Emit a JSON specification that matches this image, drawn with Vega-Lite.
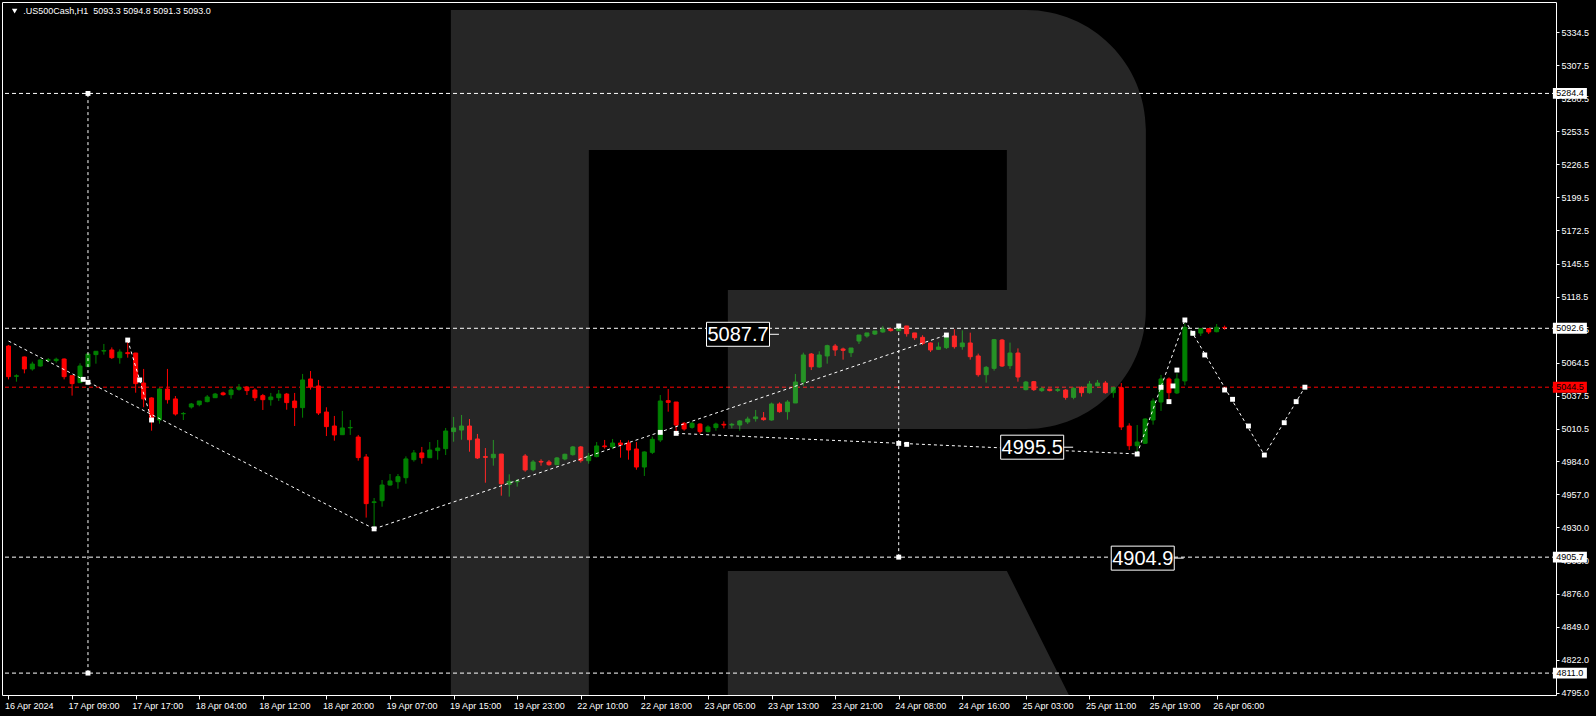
{
"$schema": "https://vega.github.io/schema/vega-lite/v6.json",
"width": 1554, "height": 693,
"autosize": {"type": "none"},
"padding": {"left": 2, "top": 2, "right": 40, "bottom": 21},
"background": "#000000",
"config": {"view": {"stroke": "#ffffff", "strokeWidth": 1}},
"resolve": {"axis": {"x": "independent", "y": "independent"}},
"datasets": {
"candles": [
{"i":0,"o":5078.1,"h":5079.0,"l":5050.9,"c":5053.1},
{"i":1,"o":5053.4,"h":5055.0,"l":5049.0,"c":5053.8},
{"i":2,"o":5069.2,"h":5069.5,"l":5055.8,"c":5059.4},
{"i":3,"o":5059.4,"h":5065.3,"l":5058.0,"c":5063.4},
{"i":4,"o":5061.8,"h":5067.5,"l":5061.3,"c":5066.7},
{"i":5,"o":5066.5,"h":5068.3,"l":5065.1,"c":5066.9},
{"i":6,"o":5066.2,"h":5068.6,"l":5064.5,"c":5067.3},
{"i":7,"o":5067.5,"h":5068.0,"l":5050.9,"c":5053.1},
{"i":8,"o":5053.9,"h":5054.0,"l":5037.6,"c":5047.4},
{"i":9,"o":5048.2,"h":5064.0,"l":5048.0,"c":5061.8},
{"i":10,"o":5061.3,"h":5072.1,"l":5061.0,"c":5071.6},
{"i":11,"o":5071.1,"h":5073.9,"l":5063.7,"c":5073.8},
{"i":12,"o":5074.0,"h":5079.8,"l":5071.1,"c":5074.4},
{"i":13,"o":5074.9,"h":5077.0,"l":5067.5,"c":5068.6},
{"i":14,"o":5068.6,"h":5075.4,"l":5063.7,"c":5073.2},
{"i":15,"o":5072.7,"h":5081.4,"l":5068.6,"c":5071.9},
{"i":16,"o":5072.4,"h":5072.5,"l":5040.0,"c":5047.4},
{"i":17,"o":5047.9,"h":5059.4,"l":5028.1,"c":5034.9},
{"i":18,"o":5035.7,"h":5036.2,"l":5009.0,"c":5017.7},
{"i":19,"o":5017.7,"h":5043.8,"l":5014.7,"c":5043.0},
{"i":20,"o":5043.0,"h":5059.4,"l":5031.1,"c":5034.3},
{"i":21,"o":5034.9,"h":5037.3,"l":5021.3,"c":5022.6},
{"i":22,"o":5022.8,"h":5024.2,"l":5017.7,"c":5023.0},
{"i":23,"o":5028.3,"h":5031.6,"l":5027.0,"c":5030.8},
{"i":24,"o":5030.2,"h":5033.2,"l":5028.9,"c":5033.2},
{"i":25,"o":5032.7,"h":5038.1,"l":5032.1,"c":5036.5},
{"i":26,"o":5035.9,"h":5039.8,"l":5035.9,"c":5038.9},
{"i":27,"o":5039.8,"h":5040.8,"l":5037.6,"c":5038.4},
{"i":28,"o":5038.4,"h":5044.1,"l":5035.1,"c":5042.2},
{"i":29,"o":5042.8,"h":5047.1,"l":5041.7,"c":5044.4},
{"i":30,"o":5044.6,"h":5045.5,"l":5038.1,"c":5041.7},
{"i":31,"o":5042.2,"h":5043.6,"l":5033.2,"c":5035.9},
{"i":32,"o":5037.6,"h":5039.0,"l":5025.9,"c":5034.3},
{"i":33,"o":5034.3,"h":5039.8,"l":5029.4,"c":5036.5},
{"i":34,"o":5035.9,"h":5042.2,"l":5033.2,"c":5038.9},
{"i":35,"o":5038.9,"h":5039.8,"l":5026.1,"c":5031.9},
{"i":36,"o":5033.2,"h":5039.8,"l":5012.8,"c":5027.8},
{"i":37,"o":5027.8,"h":5055.3,"l":5019.6,"c":5050.4},
{"i":38,"o":5051.2,"h":5057.7,"l":5042.5,"c":5044.6},
{"i":39,"o":5045.5,"h":5050.4,"l":5021.8,"c":5023.4},
{"i":40,"o":5024.2,"h":5028.1,"l":5004.6,"c":5012.3},
{"i":41,"o":5012.8,"h":5021.0,"l":5000.8,"c":5005.5},
{"i":42,"o":5005.7,"h":5025.1,"l":5005.7,"c":5011.2},
{"i":43,"o":5011.3,"h":5017.7,"l":5005.5,"c":5011.6},
{"i":44,"o":5003.8,"h":5005.5,"l":4984.5,"c":4987.0},
{"i":45,"o":4987.5,"h":4989.9,"l":4938.0,"c":4949.4},
{"i":46,"o":4950.3,"h":4954.0,"l":4930.0,"c":4950.9},
{"i":47,"o":4951.8,"h":4968.7,"l":4946.9,"c":4964.6},
{"i":48,"o":4964.6,"h":4973.6,"l":4964.1,"c":4967.9},
{"i":49,"o":4967.3,"h":4973.6,"l":4961.6,"c":4971.4},
{"i":50,"o":4970.6,"h":4988.0,"l":4965.7,"c":4985.9},
{"i":51,"o":4985.3,"h":4993.2,"l":4983.7,"c":4990.8},
{"i":52,"o":4990.8,"h":4995.7,"l":4982.0,"c":4986.9},
{"i":53,"o":4986.9,"h":4999.7,"l":4986.9,"c":4993.2},
{"i":54,"o":4992.7,"h":5001.4,"l":4985.3,"c":4994.8},
{"i":55,"o":4994.3,"h":5011.2,"l":4989.1,"c":5008.7},
{"i":56,"o":5008.2,"h":5020.2,"l":5000.0,"c":5011.2},
{"i":57,"o":5009.5,"h":5021.8,"l":5001.6,"c":5012.8},
{"i":58,"o":5012.8,"h":5018.5,"l":4991.8,"c":5001.6},
{"i":59,"o":5002.2,"h":5006.3,"l":4985.9,"c":4986.7},
{"i":60,"o":4987.8,"h":4994.8,"l":4966.5,"c":4987.2},
{"i":61,"o":4986.9,"h":5001.4,"l":4980.4,"c":4989.7},
{"i":62,"o":4989.9,"h":4989.9,"l":4955.9,"c":4965.7},
{"i":63,"o":4965.2,"h":4973.3,"l":4955.1,"c":4967.6},
{"i":64,"o":4967.3,"h":4969.5,"l":4963.3,"c":4967.9},
{"i":65,"o":4988.3,"h":4989.9,"l":4975.5,"c":4976.9},
{"i":66,"o":4977.1,"h":4985.0,"l":4975.8,"c":4983.4},
{"i":67,"o":4983.9,"h":4985.6,"l":4980.4,"c":4983.4},
{"i":68,"o":4983.4,"h":4985.0,"l":4980.4,"c":4981.2},
{"i":69,"o":4981.2,"h":4987.5,"l":4981.0,"c":4986.7},
{"i":70,"o":4985.9,"h":4990.2,"l":4984.8,"c":4989.7},
{"i":71,"o":4989.4,"h":4996.5,"l":4988.6,"c":4995.7},
{"i":72,"o":4995.7,"h":4996.5,"l":4982.9,"c":4984.5},
{"i":73,"o":4984.5,"h":4990.8,"l":4982.0,"c":4988.3},
{"i":74,"o":4987.8,"h":4999.7,"l":4987.2,"c":4996.5},
{"i":75,"o":4996.5,"h":5001.4,"l":4994.3,"c":4995.9},
{"i":76,"o":4995.7,"h":5002.2,"l":4994.0,"c":4998.9},
{"i":77,"o":4998.9,"h":5001.4,"l":4986.9,"c":4997.3},
{"i":78,"o":4998.9,"h":5001.1,"l":4985.3,"c":4993.2},
{"i":79,"o":4994.0,"h":4999.7,"l":4977.1,"c":4979.3},
{"i":80,"o":4979.3,"h":4992.1,"l":4972.0,"c":4991.6},
{"i":81,"o":4991.3,"h":5004.1,"l":4989.9,"c":5001.9},
{"i":82,"o":5001.4,"h":5038.1,"l":4999.7,"c":5033.2},
{"i":83,"o":5033.5,"h":5043.0,"l":5024.5,"c":5032.1},
{"i":84,"o":5032.4,"h":5032.4,"l":5008.2,"c":5013.6},
{"i":85,"o":5015.0,"h":5016.1,"l":5009.0,"c":5010.4},
{"i":86,"o":5011.7,"h":5016.1,"l":5010.6,"c":5015.0},
{"i":87,"o":5014.4,"h":5015.0,"l":5006.3,"c":5008.2},
{"i":88,"o":5008.2,"h":5013.4,"l":5007.6,"c":5012.0},
{"i":89,"o":5011.5,"h":5015.5,"l":5009.0,"c":5014.4},
{"i":90,"o":5014.2,"h":5016.6,"l":5010.9,"c":5013.6},
{"i":91,"o":5013.6,"h":5015.3,"l":5010.9,"c":5014.2},
{"i":92,"o":5013.6,"h":5017.7,"l":5009.0,"c":5016.9},
{"i":93,"o":5016.1,"h":5020.4,"l":5014.4,"c":5018.5},
{"i":94,"o":5018.8,"h":5025.9,"l":5016.4,"c":5020.2},
{"i":95,"o":5019.4,"h":5024.2,"l":5017.2,"c":5018.0},
{"i":96,"o":5017.7,"h":5031.9,"l":5017.2,"c":5030.8},
{"i":97,"o":5030.8,"h":5032.1,"l":5023.7,"c":5024.5},
{"i":98,"o":5024.5,"h":5034.0,"l":5018.0,"c":5032.4},
{"i":99,"o":5031.6,"h":5055.3,"l":5031.6,"c":5048.7},
{"i":100,"o":5048.7,"h":5072.7,"l":5045.7,"c":5070.8},
{"i":101,"o":5071.6,"h":5072.4,"l":5058.5,"c":5061.2},
{"i":102,"o":5061.0,"h":5073.8,"l":5060.4,"c":5070.8},
{"i":103,"o":5070.0,"h":5079.2,"l":5063.7,"c":5078.4},
{"i":104,"o":5078.1,"h":5079.8,"l":5070.0,"c":5074.9},
{"i":105,"o":5075.7,"h":5076.8,"l":5067.0,"c":5074.6},
{"i":106,"o":5072.7,"h":5076.5,"l":5069.2,"c":5076.5},
{"i":107,"o":5082.2,"h":5087.1,"l":5079.8,"c":5087.1},
{"i":108,"o":5086.3,"h":5088.8,"l":5084.9,"c":5088.8},
{"i":109,"o":5087.9,"h":5090.4,"l":5087.1,"c":5090.4},
{"i":110,"o":5089.6,"h":5094.5,"l":5089.0,"c":5092.0},
{"i":111,"o":5092.0,"h":5092.6,"l":5089.9,"c":5090.7},
{"i":112,"o":5090.7,"h":5094.0,"l":5090.1,"c":5092.6},
{"i":113,"o":5094.5,"h":5094.5,"l":5085.8,"c":5088.2},
{"i":114,"o":5088.8,"h":5088.8,"l":5083.0,"c":5084.9},
{"i":115,"o":5085.2,"h":5086.9,"l":5078.9,"c":5080.3},
{"i":116,"o":5080.6,"h":5081.1,"l":5073.2,"c":5074.9},
{"i":117,"o":5075.4,"h":5081.1,"l":5075.1,"c":5077.3},
{"i":118,"o":5076.8,"h":5088.5,"l":5075.7,"c":5085.2},
{"i":119,"o":5086.3,"h":5091.8,"l":5076.0,"c":5077.6},
{"i":120,"o":5077.6,"h":5090.9,"l":5075.1,"c":5080.6},
{"i":121,"o":5080.6,"h":5089.0,"l":5067.0,"c":5069.4},
{"i":122,"o":5070.0,"h":5071.9,"l":5053.1,"c":5054.7},
{"i":123,"o":5054.7,"h":5061.8,"l":5048.2,"c":5060.7},
{"i":124,"o":5059.9,"h":5083.9,"l":5058.0,"c":5083.3},
{"i":125,"o":5083.0,"h":5083.9,"l":5061.0,"c":5061.8},
{"i":126,"o":5062.1,"h":5080.9,"l":5059.4,"c":5072.4},
{"i":127,"o":5072.4,"h":5076.2,"l":5049.0,"c":5052.8},
{"i":128,"o":5042.5,"h":5049.6,"l":5041.9,"c":5048.7},
{"i":129,"o":5049.0,"h":5049.6,"l":5041.4,"c":5042.5},
{"i":130,"o":5041.7,"h":5044.7,"l":5040.6,"c":5043.3},
{"i":131,"o":5043.0,"h":5043.0,"l":5041.1,"c":5041.7},
{"i":132,"o":5041.9,"h":5043.8,"l":5040.6,"c":5042.5},
{"i":133,"o":5042.2,"h":5043.0,"l":5034.3,"c":5036.2},
{"i":134,"o":5036.2,"h":5044.4,"l":5034.6,"c":5043.6},
{"i":135,"o":5044.4,"h":5045.2,"l":5036.8,"c":5040.0},
{"i":136,"o":5040.0,"h":5049.6,"l":5039.2,"c":5047.1},
{"i":137,"o":5045.7,"h":5050.4,"l":5045.2,"c":5047.9},
{"i":138,"o":5047.9,"h":5049.6,"l":5039.2,"c":5040.0},
{"i":139,"o":5040.0,"h":5044.9,"l":5035.9,"c":5044.1},
{"i":140,"o":5044.1,"h":5047.9,"l":5009.5,"c":5012.0},
{"i":141,"o":5012.8,"h":5015.0,"l":4993.2,"c":4996.7},
{"i":142,"o":4996.7,"h":5013.6,"l":4989.9,"c":4999.7},
{"i":143,"o":4998.7,"h":5019.1,"l":4998.1,"c":5018.5},
{"i":144,"o":5017.7,"h":5035.4,"l":5013.9,"c":5033.2},
{"i":145,"o":5032.4,"h":5054.5,"l":5025.1,"c":5051.2},
{"i":146,"o":5051.2,"h":5052.5,"l":5034.0,"c":5040.0},
{"i":147,"o":5039.8,"h":5055.8,"l":5038.9,"c":5051.2},
{"i":148,"o":5049.6,"h":5096.6,"l":5046.0,"c":5093.4},
{"i":149,"o":5087.4,"h":5090.4,"l":5086.3,"c":5089.6},
{"i":150,"o":5088.7,"h":5092.8,"l":5086.3,"c":5092.3},
{"i":151,"o":5092.3,"h":5092.8,"l":5087.9,"c":5089.6},
{"i":152,"o":5089.8,"h":5096.1,"l":5089.3,"c":5093.4},
{"i":153,"o":5093.3,"h":5094.8,"l":5091.3,"c":5093.0}
],
"hlines": [{"v":5284.4},{"v":5092.6},{"v":4905.7},{"v":4811.0}],
"vlines": [{"i":10,"a":4811.0,"b":5284.4},{"i":112,"a":4905.7,"b":5094.5}],
"trend": [
{"g":1,"i":0,"v":5082.2},{"g":1,"i":46,"v":4928.8},
{"g":2,"i":15,"v":5083.0},{"g":2,"i":18,"v":5017.7},
{"g":3,"i":46,"v":4928.8},{"g":3,"i":118,"v":5087.1},
{"g":4,"i":84,"v":5006.8},{"g":4,"i":142,"v":4990.0},
{"g":5,"i":142,"v":4990.0},{"g":5,"i":148,"v":5099.4},
{"g":6,"i":148,"v":5099.4},{"g":6,"i":158,"v":4989.1},{"g":6,"i":163.1,"v":5044.5}
],
"marks": [
{"i":9.4,"v":5050.9},{"i":10,"v":5048.5},{"i":10,"v":5284.4},{"i":10,"v":4811.0},
{"i":15,"v":5083.0},{"i":16.5,"v":5050.4},{"i":18,"v":5017.7},{"i":46,"v":4928.8},
{"i":82,"v":5007.6},{"i":84,"v":5006.8},{"i":112,"v":5094.5},{"i":112,"v":4998.6},
{"i":113,"v":4997.8},{"i":112,"v":4905.7},{"i":118,"v":5087.1},{"i":142,"v":4989.9},
{"i":145,"v":5044.4},{"i":146,"v":5032.7},{"i":146.5,"v":5045.5},{"i":147,"v":5058.5},
{"i":148,"v":5099.4},{"i":149,"v":5088.5},{"i":150.5,"v":5070.8},{"i":153,"v":5042.2},
{"i":154,"v":5034.6},{"i":156,"v":5012.8},{"i":158,"v":4989.1},{"i":160.5,"v":5015.5},
{"i":162,"v":5032.7},{"i":163.1,"v":5044.5}
],
"labels": [{"i":91.78,"v":5087.7},{"i":128.79,"v":4995.5},{"i":142.7,"v":4904.9}],
"axisboxes": [{"v":5284.4},{"v":5092.6},{"v":4905.7},{"v":4811.0}],
"one": [{}],
"title": [{"t":".US500Cash,H1\u00a0 5093.3 5094.8 5091.3 5093.0"}]
},
"layer": [
{
"data": {"name": "hlines"},
"mark": {"type": "rule", "color": "#ffffff", "strokeWidth": 1, "strokeDash": [4, 3]},
"encoding": {
"y": {"field": "v", "type": "quantitative", "scale": {"domain": [4793.12, 5359.07], "nice": false, "zero": false},
"axis": {"orient": "right", "values": [5334.5, 5307.5, 5280.5, 5253.5, 5226.5, 5199.5, 5172.5, 5145.5, 5118.5, 5091.5, 5064.5, 5037.5, 5010.5, 4984.0, 4957.0, 4930.0, 4903.0, 4876.0, 4849.0, 4822.0, 4795.0], "format": ".1f", "tickSize": 3, "tickColor": "#ffffff", "labelColor": "#ffffff", "labelFont": "Liberation Sans", "labelFontSize": 9, "labelPadding": 2, "domain": false, "grid": false, "title": null, "labelOverlap": false, "labelFlush": false, "labelBound": false}}
}
},
{
"data": {"name": "one"},
"mark": {"type": "rule", "color": "#ff0000", "strokeWidth": 1, "strokeDash": [4, 3]},
"encoding": {"y": {"datum": 5044.5, "type": "quantitative", "scale": {"domain": [4793.12, 5359.07], "nice": false, "zero": false}, "axis": null}}
},
{
"data": {"name": "candles"},
"mark": {"type": "rule", "strokeWidth": 1},
"encoding": {
"x": {"field": "i", "type": "quantitative", "scale": {"domain": [-0.1875, 194.0625], "nice": false, "zero": false},
"axis": {"orient": "bottom", "values": [0, 8, 16, 24, 32, 40, 48, 56, 64, 72, 80, 88, 96, 104, 112, 120, 128, 136, 144, 152], "labelExpr": "['16 Apr 2024','17 Apr 09:00','17 Apr 17:00','18 Apr 04:00','18 Apr 12:00','18 Apr 20:00','19 Apr 07:00','19 Apr 15:00','19 Apr 23:00','22 Apr 10:00','22 Apr 18:00','23 Apr 05:00','23 Apr 13:00','23 Apr 21:00','24 Apr 08:00','24 Apr 16:00','25 Apr 03:00','25 Apr 11:00','25 Apr 19:00','26 Apr 06:00'][round(datum.value/8)]", "tickSize": 4, "tickColor": "#ffffff", "labelColor": "#ffffff", "labelFont": "Liberation Sans", "labelFontSize": 9, "labelAlign": "left", "labelBaseline": "top", "labelPadding": 2, "labelOffset": -4, "domain": false, "grid": false, "title": null, "labelOverlap": false, "labelFlush": false, "labelBound": false}},
"y": {"field": "l", "type": "quantitative", "scale": {"domain": [4793.12, 5359.07], "nice": false, "zero": false}, "axis": null},
"y2": {"field": "h"},
"color": {"condition": {"test": "datum.c >= datum.o", "value": "#008000"}, "value": "#ff0000"}
}
},
{
"data": {"name": "candles"},
"mark": {"type": "bar", "width": 4, "strokeWidth": 1, "orient": "vertical"},
"encoding": {
"x": {"field": "i", "type": "quantitative", "scale": {"domain": [-0.1875, 194.0625], "nice": false, "zero": false}, "axis": null},
"y": {"field": "o", "type": "quantitative", "scale": {"domain": [4793.12, 5359.07], "nice": false, "zero": false}, "axis": null},
"y2": {"field": "c"},
"fill": {"condition": {"test": "datum.c >= datum.o", "value": "#008000"}, "value": "#ff0000"},
"stroke": {"condition": {"test": "datum.c >= datum.o", "value": "#008000"}, "value": "#ff0000"}
}
},
{
"data": {"name": "one"},
"mark": {"type": "point", "shape": "M-0.8725,-0.85L0.565,-0.85C0.73075,-0.85 0.865,-0.71575 0.865,-0.55L0.865,-0.1025C0.865,0.06325 0.73075,0.1975 0.565,0.1975L-0.18,0.1975L-0.18,-0.15L0.5175,-0.15L0.5175,-0.5L-0.5275,-0.5L-0.5275,0.8625L-0.8725,0.8625ZM-0.18,0.5525L0.5175,0.5525L0.6725,0.8625L-0.18,0.8625Z", "size": 640000, "filled": true, "fill": "#ffffff", "fillOpacity": 0.15, "opacity": 1, "strokeWidth": 0},
"encoding": {
"x": {"datum": 99.5625, "type": "quantitative", "scale": {"domain": [-0.1875, 194.0625], "nice": false, "zero": false}, "axis": null},
"y": {"datum": 5074.87, "type": "quantitative", "scale": {"domain": [4793.12, 5359.07], "nice": false, "zero": false}, "axis": null}
}
},
{
"data": {"name": "vlines"},
"mark": {"type": "rule", "color": "#ffffff", "strokeWidth": 1, "strokeDash": [3, 3]},
"encoding": {
"x": {"field": "i", "type": "quantitative", "scale": {"domain": [-0.1875, 194.0625], "nice": false, "zero": false}, "axis": null},
"y": {"field": "a", "type": "quantitative", "scale": {"domain": [4793.12, 5359.07], "nice": false, "zero": false}, "axis": null},
"y2": {"field": "b"}
}
},
{
"data": {"name": "trend"},
"mark": {"type": "line", "color": "#ffffff", "strokeWidth": 1, "strokeDash": [3, 3]},
"encoding": {
"x": {"field": "i", "type": "quantitative", "scale": {"domain": [-0.1875, 194.0625], "nice": false, "zero": false}, "axis": null},
"y": {"field": "v", "type": "quantitative", "scale": {"domain": [4793.12, 5359.07], "nice": false, "zero": false}, "axis": null},
"detail": {"field": "g", "type": "nominal"}
}
},
{
"data": {"name": "marks"},
"mark": {"type": "point", "shape": "square", "size": 24, "filled": true, "color": "#ffffff", "opacity": 1},
"encoding": {
"x": {"field": "i", "type": "quantitative", "scale": {"domain": [-0.1875, 194.0625], "nice": false, "zero": false}, "axis": null},
"y": {"field": "v", "type": "quantitative", "scale": {"domain": [4793.12, 5359.07], "nice": false, "zero": false}, "axis": null}
}
},
{
"data": {"name": "labels"},
"mark": {"type": "point", "shape": "M-1,-0.381L1,-0.381L1,0.381L-1,0.381ZM1,0L1.3,0", "size": 3969, "filled": true, "fill": "#000000", "stroke": "#ffffff", "strokeWidth": 1, "opacity": 1},
"encoding": {
"x": {"field": "i", "type": "quantitative", "scale": {"domain": [-0.1875, 194.0625], "nice": false, "zero": false}, "axis": null},
"y": {"field": "v", "type": "quantitative", "scale": {"domain": [4793.12, 5359.07], "nice": false, "zero": false}, "axis": null}
}
},
{
"data": {"name": "labels"},
"mark": {"type": "text", "font": "Liberation Sans", "fontSize": 20, "color": "#ffffff", "align": "center", "baseline": "middle", "dy": 1},
"encoding": {
"x": {"field": "i", "type": "quantitative", "scale": {"domain": [-0.1875, 194.0625], "nice": false, "zero": false}, "axis": null},
"y": {"field": "v", "type": "quantitative", "scale": {"domain": [4793.12, 5359.07], "nice": false, "zero": false}, "axis": null},
"text": {"field": "v", "type": "quantitative", "format": ".1f"}
}
},
{
"data": {"name": "axisboxes"},
"mark": {"type": "point", "shape": "M-1,-0.32L1,-0.32L1,0.32L-1,0.32Z", "size": 1156, "filled": true, "fill": "#ffffff", "opacity": 1, "strokeWidth": 0},
"encoding": {
"x": {"datum": 196.44, "type": "quantitative", "scale": {"domain": [-0.1875, 194.0625], "nice": false, "zero": false}, "axis": null},
"y": {"field": "v", "type": "quantitative", "scale": {"domain": [4793.12, 5359.07], "nice": false, "zero": false}, "axis": null}
}
},
{
"data": {"name": "one"},
"mark": {"type": "point", "shape": "M-1,-0.32L1,-0.32L1,0.32L-1,0.32Z", "size": 1156, "filled": true, "fill": "#ff0000", "opacity": 1, "strokeWidth": 0},
"encoding": {
"x": {"datum": 196.44, "type": "quantitative", "scale": {"domain": [-0.1875, 194.0625], "nice": false, "zero": false}, "axis": null},
"y": {"datum": 5044.5, "type": "quantitative", "scale": {"domain": [4793.12, 5359.07], "nice": false, "zero": false}, "axis": null}
}
},
{
"data": {"name": "axisboxes"},
"mark": {"type": "text", "font": "Liberation Sans", "fontSize": 9, "color": "#000000", "align": "center", "baseline": "middle"},
"encoding": {
"x": {"datum": 196.44, "type": "quantitative", "scale": {"domain": [-0.1875, 194.0625], "nice": false, "zero": false}, "axis": null},
"y": {"field": "v", "type": "quantitative", "scale": {"domain": [4793.12, 5359.07], "nice": false, "zero": false}, "axis": null},
"text": {"field": "v", "type": "quantitative", "format": ".1f"}
}
},
{
"data": {"name": "one"},
"mark": {"type": "text", "font": "Liberation Sans", "fontSize": 9, "color": "#000000", "align": "center", "baseline": "middle", "text": "5044.5"},
"encoding": {
"x": {"datum": 196.44, "type": "quantitative", "scale": {"domain": [-0.1875, 194.0625], "nice": false, "zero": false}, "axis": null},
"y": {"datum": 5044.5, "type": "quantitative", "scale": {"domain": [4793.12, 5359.07], "nice": false, "zero": false}, "axis": null}
}
},
{
"data": {"name": "one"},
"mark": {"type": "point", "shape": "triangle-down", "size": 30, "filled": true, "color": "#ffffff", "opacity": 1},
"encoding": {
"x": {"datum": 0.775, "type": "quantitative", "scale": {"domain": [-0.1875, 194.0625], "nice": false, "zero": false}, "axis": null},
"y": {"datum": 5351.7, "type": "quantitative", "scale": {"domain": [4793.12, 5359.07], "nice": false, "zero": false}, "axis": null}
}
},
{
"data": {"name": "title"},
"mark": {"type": "text", "font": "Liberation Sans", "fontSize": 9, "color": "#ffffff", "align": "left", "baseline": "middle"},
"encoding": {
"x": {"datum": 1.85, "type": "quantitative", "scale": {"domain": [-0.1875, 194.0625], "nice": false, "zero": false}, "axis": null},
"y": {"datum": 5351.7, "type": "quantitative", "scale": {"domain": [4793.12, 5359.07], "nice": false, "zero": false}, "axis": null},
"text": {"field": "t", "type": "nominal"}
}
}
]
}
